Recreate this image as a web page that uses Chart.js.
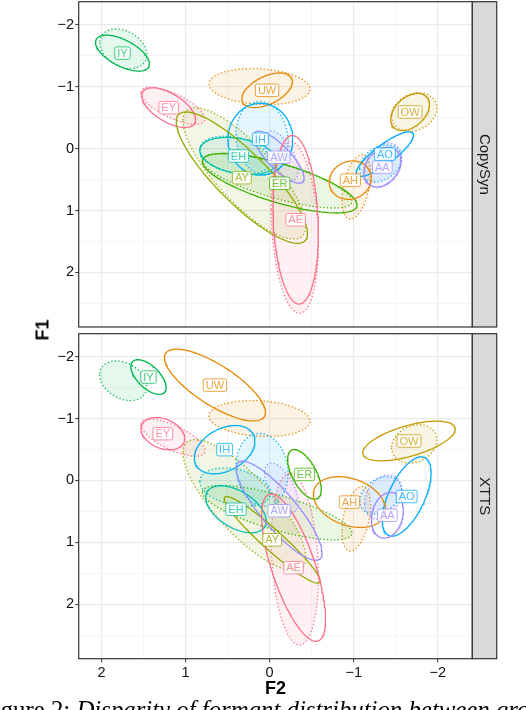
<!DOCTYPE html>
<html>
<head>
<meta charset="utf-8">
<script src="https://cdn.jsdelivr.net/npm/chart.js@4.4.1/dist/chart.umd.min.js"></script>
<style>
  body { margin: 0; background: #fff; }
  #page { position: relative; width: 526px; height: 710px; overflow: hidden; }
  .panel { position: absolute; left: 0; }
  #f1 { position: absolute; left: 43px; top: 330px; transform: translate(-50%, -50%) rotate(-90deg); font: bold 18px "Liberation Sans", Arial, sans-serif; color: #000; }
  #f2 { position: absolute; left: 275.5px; top: 688.3px; transform: translate(-50%, -50%); font: bold 18px "Liberation Sans", Arial, sans-serif; color: #000; }
  #caption { position: absolute; left: -20px; top: 698px; white-space: nowrap; font: 24.8px/24.8px "Liberation Serif", "Times New Roman", serif; color: #000; }
</style>
</head>
<body>
<div id="page">
  <canvas id="copySyn" class="panel" width="500" height="330" style="top:0"></canvas>
  <canvas id="xtts" class="panel" width="500" height="355" style="top:330px"></canvas>
  <div id="f1">F1</div>
  <div id="f2">F2</div>
  <div id="caption">Figure 2: <i>Disparity of formant distribution between groups</i></div>
</div>
<script>
const vowels = ["AA", "AE", "AH", "AO", "AW", "AY", "EH", "ER", "EY", "IH", "IY", "OW", "UW"];
const vowelColors = ["#A18AFF", "#FB6F89", "#E8890C", "#00A9FF", "#9590FF", "#93AA00", "#00BFB0",
                     "#3AB200", "#FF6C91", "#00B0F6", "#00B850", "#C49A00", "#E58700"];

// ground truth ellipses (dotted, filled) - centre, half extent along F2 / F1, tilt (correlation)
const gtF2     = [-1.35, -0.30, -1.03, -1.32, -0.14, 0.30, 0.41, -0.09, 1.15, 0.09, 1.74, -1.72, 0.12];
const gtF1     = [0.27, 1.27, 0.62, 0.24, 0.12, 0.40, 0.11, 0.52, -0.69, -0.17, -1.61, -0.59, -1.00];
const gtHalfF2 = [0.22, 0.28, 0.17, 0.25, 0.20, 0.73, 0.42, 0.89, 0.38, 0.31, 0.28, 0.27, 0.60];
const gtHalfF1 = [0.36, 1.39, 0.52, 0.30, 0.40, 1.06, 0.31, 0.44, 0.30, 0.59, 0.32, 0.31, 0.29];
const gtTilt   = [0.3, -0.2, 0.4, 0.3, -0.6, -0.8, -0.3, -0.75, -0.7, -0.1, -0.3, 0.2, -0.15];

// CopySyn ellipses (solid)
const copyF2     = [-1.34, -0.31, -0.96, -1.37, -0.11, 0.33, 0.37, -0.12, 1.20, 0.11, 1.75, -1.67, 0.03];
const copyF1     = [0.30, 1.15, 0.51, 0.09, 0.14, 0.47, 0.12, 0.56, -0.66, -0.15, -1.54, -0.59, -0.94];
const copyHalfF2 = [0.22, 0.27, 0.25, 0.34, 0.30, 0.78, 0.46, 0.92, 0.32, 0.385, 0.32, 0.23, 0.30];
const copyHalfF1 = [0.32, 1.36, 0.31, 0.36, 0.42, 1.06, 0.30, 0.48, 0.32, 0.58, 0.29, 0.30, 0.28];
const copyTilt   = [0.3, -0.15, 0.1, 0.85, -0.8, -0.85, -0.3, -0.73, -0.6, 0.0, -0.6, 0.4, 0.5];

// XTTS ellipses (solid)
const xttsF2     = [-1.40, -0.285, -0.95, -1.63, -0.113, -0.03, 0.40, -0.414, 1.27, 0.535, 1.44, -1.657, 0.65];
const xttsF1     = [0.563, 1.41, 0.35, 0.26, 0.49, 0.96, 0.466, -0.097, -0.755, -0.497, -1.67, -0.637, -1.54];
const xttsHalfF2 = [0.19, 0.38, 0.43, 0.29, 0.51, 0.57, 0.36, 0.20, 0.26, 0.36, 0.21, 0.55, 0.60];
const xttsHalfF1 = [0.37, 1.19, 0.41, 0.64, 0.80, 0.70, 0.38, 0.40, 0.26, 0.39, 0.28, 0.32, 0.58];
const xttsTilt   = [0.2, -0.7, -0.3, 0.6, -0.85, -0.95, -0.5, -0.6, -0.3, 0.35, -0.6, 0.6, -0.76];

const f2Ticks = [2, 1, 0, -1, -2];
const f1Ticks = [-2, -1, 0, 1, 2];
const f2Minor = [1.5, 0.5, -0.5, -1.5];
const f1Minor = [-1.5, -0.5, 0.5, 1.5, 2.5];

const TICK_FONT = { family: '"Liberation Sans", Arial, sans-serif', size: 14.5 };

// outline of an ellipse given centre, half extents and correlation
function ellipse(cx, cy, hx, hy, tilt) {
  const th = Math.acos(tilt);
  const pts = [];
  for (let k = 0; k <= 120; k++) {
    const t = k / 120 * 2 * Math.PI;
    pts.push({ x: cx + hx * Math.cos(t), y: cy + hy * Math.cos(t - th) });
  }
  return pts;
}

const minus = v => (v < 0 ? "\u2212" + Math.abs(v) : String(v));
const isMajor = v => Math.abs(v - Math.round(v)) < 1e-6;

function makePanel(id, strip, sys, showX) {
  const datasets = [];
  vowels.forEach((v, i) => {
    datasets.push({
      label: v, data: ellipse(sys.f2[i], sys.f1[i], sys.h2[i], sys.h1[i], sys.tilt[i]),
      borderColor: vowelColors[i], borderWidth: 1.3, pointRadius: 0, showLine: true, tension: 0
    });
  });
  const refStart = datasets.length;
  vowels.forEach((v, i) => {
    datasets.push({
      label: v + " ref", data: ellipse(gtF2[i], gtF1[i], gtHalfF2[i], gtHalfF1[i], gtTilt[i]),
      borderColor: vowelColors[i], borderWidth: 1.3, borderDash: [1.3, 2.3],
      pointRadius: 0, showLine: true, tension: 0
    });
  });

  const panelPlugin = {
    id: "panel_" + id,
    beforeDatasetsDraw(chart) {
      const ctx = chart.ctx, a = chart.chartArea;
      ctx.save();
      ctx.beginPath();
      ctx.rect(a.left, a.top, a.right - a.left, a.bottom - a.top);
      ctx.clip();
      for (let i = refStart; i < chart.data.datasets.length; i++) {
        const pts = chart.getDatasetMeta(i).data;
        ctx.beginPath();
        pts.forEach((p, k) => (k ? ctx.lineTo(p.x, p.y) : ctx.moveTo(p.x, p.y)));
        ctx.closePath();
        ctx.globalAlpha = 0.1;
        ctx.fillStyle = chart.data.datasets[i].borderColor;
        ctx.fill();
      }
      ctx.restore();
    },
    afterDatasetsDraw(chart) {
      const ctx = chart.ctx;
      const xs = chart.scales.x, ys = chart.scales.y;
      ctx.save();
      ctx.font = '11px "Liberation Sans", Arial, sans-serif';
      ctx.textAlign = "center";
      ctx.textBaseline = "middle";
      vowels.forEach((v, i) => {
        const x = xs.getPixelForValue(sys.f2[i]);
        const y = ys.getPixelForValue(sys.f1[i]);
        const w = ctx.measureText(v).width + 5, h = 12.5;
        ctx.beginPath();
        ctx.roundRect(x - w / 2, y - h / 2, w, h, 1.8);
        ctx.globalAlpha = 0.85;
        ctx.fillStyle = "#fff";
        ctx.fill();
        ctx.globalAlpha = 0.75;
        ctx.lineWidth = 1;
        ctx.strokeStyle = vowelColors[i];
        ctx.stroke();
        ctx.fillStyle = vowelColors[i];
        ctx.fillText(v, x, y + 0.5);
      });
      ctx.restore();
    },
    afterDraw(chart) {
      const ctx = chart.ctx, a = chart.chartArea;
      ctx.save();
      ctx.lineWidth = 1.2;
      ctx.strokeStyle = "#333";
      ctx.strokeRect(a.left, a.top, a.right - a.left, a.bottom - a.top);
      const sw = 24.4;
      ctx.fillStyle = "#D9D9D9";
      ctx.fillRect(a.right, a.top, sw, a.bottom - a.top);
      ctx.strokeRect(a.right, a.top, sw, a.bottom - a.top);
      ctx.translate(a.right + sw / 2, (a.top + a.bottom) / 2);
      ctx.rotate(Math.PI / 2);
      ctx.fillStyle = "#1A1A1A";
      ctx.font = '15px "Liberation Sans", Arial, sans-serif';
      ctx.textAlign = "center";
      ctx.textBaseline = "middle";
      ctx.fillText(strip, 0, 0);
      ctx.restore();
    }
  };

  const gridStyle = {
    color: c => (isMajor(c.tick.value) ? "#EBEBEB" : "#F3F3F3"),
    lineWidth: c => (isMajor(c.tick.value) ? 1.2 : 0.8),
    tickColor: c => (isMajor(c.tick.value) ? "#333" : "rgba(0,0,0,0)"),
    tickLength: 3.5,
    tickWidth: 1
  };

  return new Chart(document.getElementById(id), {
    type: "scatter",
    data: { datasets },
    plugins: [panelPlugin],
    options: {
      responsive: false,
      animation: false,
      layout: { padding: showX ? { top: 3.7, right: 27.7, bottom: 4.3, left: 0 }
                              : { top: 1.7, right: 27.7, bottom: 3, left: 0 } },
      plugins: { legend: { display: false }, tooltip: { enabled: false } },
      scales: {
        x: {
          type: "linear", reverse: true, min: -2.41, max: 2.27,
          afterBuildTicks: s => { s.ticks = f2Ticks.concat(f2Minor).sort((p, q) => q - p).map(v => ({ value: v })); },
          afterFit: s => { s.height = showX ? 22 : 0; s.paddingLeft = 0; s.paddingRight = 0; },
          border: { display: false },
          grid: Object.assign({}, gridStyle, { drawTicks: showX }),
          ticks: {
            display: showX, autoSkip: false, maxRotation: 0, padding: 2,
            color: "#111", font: TICK_FONT,
            callback: v => (isMajor(v) ? minus(v) : "")
          }
        },
        y: {
          type: "linear", reverse: true, min: -2.37, max: 2.88,
          afterBuildTicks: s => { s.ticks = f1Ticks.concat(f1Minor).sort((p, q) => p - q).map(v => ({ value: v })); },
          afterFit: s => { s.width = 78.7; s.paddingTop = 0; s.paddingBottom = 0; },
          border: { display: false },
          grid: gridStyle,
          ticks: {
            autoSkip: false, padding: 1.2, color: "#111", font: TICK_FONT,
            callback: v => (isMajor(v) ? minus(v) : "")
          }
        }
      }
    }
  });
}

makePanel("copySyn", "CopySyn",
  { f2: copyF2, f1: copyF1, h2: copyHalfF2, h1: copyHalfF1, tilt: copyTilt }, false);
makePanel("xtts", "XTTS",
  { f2: xttsF2, f1: xttsF1, h2: xttsHalfF2, h1: xttsHalfF1, tilt: xttsTilt }, true);
</script>
</body>
</html>
